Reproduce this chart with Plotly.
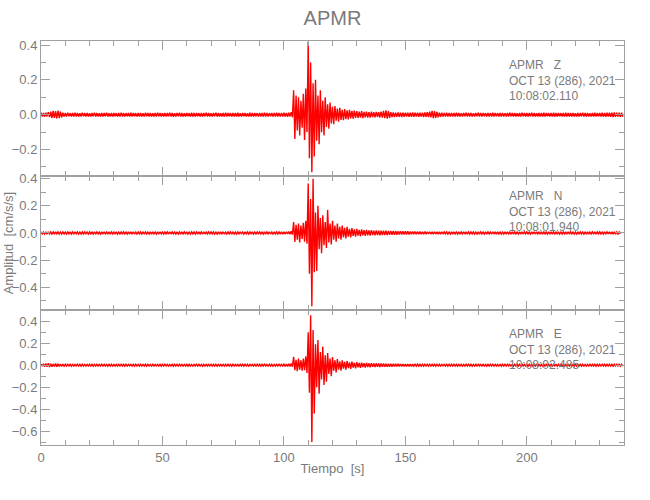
import plotly.graph_objects as go
from plotly.subplots import make_subplots

# Envelope of each ground-acceleration trace, read per 1-s window,
# in units of 0.001 cm/s/s (upper peak, lower peak).
seconds_z = list(range(240))
Z_HI = [12,10,12,15,18,22,20,24,18,12,
        10,11,9,10,12,10,9,11,10,10,
        9,10,11,10,9,10,10,11,9,10,
        10,9,10,12,10,9,10,11,10,9,
        10,10,9,11,10,10,9,10,11,10,
        9,10,10,12,10,9,10,11,10,9,
        10,9,11,10,10,9,10,10,11,10,
        9,10,11,10,9,10,12,10,9,10,
        10,11,9,10,10,9,11,10,10,9,
        10,10,11,10,9,10,10,11,10,10,
        11,10,12,15,140,110,100,80,120,150,
        420,300,180,200,110,140,80,100,60,70,
        45,50,35,40,28,32,25,28,22,24,
        20,18,21,16,18,15,17,14,16,15,
        18,22,25,20,14,13,12,13,12,12,
        12,11,12,13,12,11,12,12,13,15,
        18,22,20,16,12,11,10,11,10,10,
        10,11,10,9,10,11,10,10,9,10,
        11,10,10,9,10,10,11,10,9,10,
        10,9,10,11,10,10,9,10,11,10,
        10,10,11,10,9,10,10,11,10,9,
        10,11,10,10,9,10,11,10,10,10,
        9,10,10,11,10,10,9,10,11,10,
        10,11,10,12,11,12,13,12,12,11]
Z_LO = [-11,-12,-10,-14,-20,-18,-22,-19,-16,-11,
        -10,-9,-11,-10,-10,-11,-10,-9,-10,-11,
        -10,-9,-10,-11,-10,-10,-9,-10,-11,-10,
        -9,-10,-11,-10,-10,-9,-11,-10,-9,-10,
        -11,-10,-10,-9,-10,-11,-10,-10,-9,-10,
        -10,-11,-9,-10,-12,-10,-9,-10,-11,-10,
        -9,-10,-10,-11,-9,-10,-10,-9,-10,-11,
        -10,-9,-10,-11,-10,-10,-11,-9,-10,-10,
        -11,-10,-10,-9,-11,-10,-10,-11,-9,-10,
        -10,-11,-10,-10,-9,-10,-11,-10,-10,-11,
        -10,-12,-10,-15,-140,-90,-120,-75,-145,-100,
        -250,-330,-240,-150,-170,-100,-120,-70,-80,-50,
        -55,-35,-40,-30,-32,-25,-27,-21,-23,-18,
        -19,-17,-20,-15,-17,-16,-14,-15,-13,-16,
        -17,-20,-22,-18,-14,-13,-12,-12,-13,-12,
        -11,-12,-12,-12,-11,-12,-11,-13,-12,-14,
        -16,-20,-18,-15,-12,-10,-11,-10,-10,-11,
        -10,-10,-11,-10,-9,-10,-10,-11,-10,-9,
        -10,-11,-9,-10,-10,-11,-10,-9,-10,-10,
        -11,-10,-10,-9,-10,-11,-10,-10,-9,-10,
        -10,-9,-10,-11,-10,-10,-11,-10,-9,-10,
        -11,-10,-10,-9,-10,-11,-10,-10,-11,-10,
        -10,-11,-9,-10,-10,-10,-11,-10,-10,-9,
        -11,-10,-12,-11,-12,-13,-12,-11,-12,-12]

seconds_n = list(range(239))
N_HI = [8,7,8,9,8,7,8,8,7,8,
        7,8,8,7,9,8,7,8,8,7,
        8,7,8,8,7,8,9,7,8,8,
        7,8,7,8,8,7,8,8,9,7,
        8,8,7,8,7,8,8,7,8,9,
        7,8,8,9,8,7,8,7,8,8,
        8,7,8,8,7,8,8,9,7,8,
        8,8,7,8,8,9,7,8,8,7,
        7,8,9,7,8,8,7,8,7,8,
        8,7,8,8,9,7,8,8,7,8,
        8,9,10,12,80,60,70,55,75,90,
        365,250,400,150,200,110,130,80,170,70,
        90,55,70,45,55,38,45,30,35,26,
        30,22,26,20,23,18,21,17,19,16,
        17,16,16,15,15,14,14,13,13,12,
        12,12,11,11,10,10,10,9,10,9,
        9,8,9,8,8,9,8,8,7,8,
        8,7,8,8,9,8,7,8,8,7,
        8,8,7,8,8,7,9,8,8,7,
        7,8,8,7,8,8,7,8,9,8,
        8,7,8,9,8,7,8,8,7,8,
        8,8,7,8,7,8,8,9,8,7,
        7,8,8,7,8,8,7,8,8,8,
        8,7,8,8,9,8,8,7,8]
N_LO = [-7,-8,-8,-7,-8,-9,-7,-8,-8,-7,
        -8,-7,-8,-9,-7,-8,-8,-7,-8,-8,
        -7,-8,-8,-7,-8,-8,-7,-9,-8,-7,
        -8,-8,-7,-8,-7,-8,-9,-7,-8,-8,
        -7,-8,-8,-7,-8,-9,-7,-8,-8,-7,
        -8,-7,-8,-8,-7,-8,-8,-9,-7,-8,
        -8,-8,-7,-8,-9,-7,-8,-8,-7,-8,
        -7,-8,-8,-9,-7,-8,-8,-7,-8,-8,
        -8,-7,-8,-8,-7,-8,-9,-8,-7,-8,
        -7,-8,-8,-7,-8,-8,-7,-8,-9,-8,
        -8,-8,-10,-12,-67,-50,-70,-45,-65,-80,
        -300,-540,-290,-280,-120,-150,-90,-110,-70,-85,
        -50,-65,-40,-50,-32,-40,-27,-33,-22,-28,
        -20,-25,-18,-22,-17,-20,-16,-18,-15,-17,
        -16,-15,-15,-14,-14,-13,-13,-12,-12,-11,
        -11,-11,-10,-10,-10,-9,-9,-9,-9,-8,
        -8,-9,-8,-8,-9,-8,-7,-8,-8,-9,
        -7,-8,-8,-7,-8,-9,-8,-7,-8,-8,
        -8,-7,-8,-8,-7,-8,-8,-9,-7,-8,
        -8,-8,-7,-9,-8,-7,-8,-8,-8,-7,
        -7,-8,-8,-8,-7,-9,-8,-7,-8,-8,
        -8,-7,-9,-8,-8,-7,-8,-8,-7,-8,
        -8,-8,-7,-8,-8,-9,-7,-8,-8,-7,
        -7,-8,-8,-7,-8,-8,-9,-8,-7]

seconds_e = list(range(240))
E_HI = [10,12,15,18,14,12,16,13,11,10,
        8,9,8,7,8,9,8,8,7,8,
        9,8,7,8,8,9,8,7,8,8,
        8,7,8,9,8,8,7,8,8,9,
        7,8,8,8,9,7,8,8,7,8,
        8,9,8,7,8,8,8,9,8,7,
        8,8,7,8,9,8,7,8,8,8,
        9,8,8,7,8,8,9,8,7,8,
        8,7,8,8,9,8,8,7,8,9,
        8,8,9,7,8,8,7,8,9,8,
        10,10,12,15,76,50,60,45,60,80,
        300,455,320,190,230,120,170,90,110,60,
        75,45,55,35,45,30,38,26,32,22,
        28,20,24,18,21,17,19,16,17,15,
        15,15,14,14,13,13,12,12,11,11,
        11,10,10,10,9,10,9,9,9,9,
        9,8,8,9,8,8,7,8,9,8,
        8,8,7,8,8,9,8,8,7,8,
        9,8,8,7,8,8,9,8,8,7,
        8,8,9,8,7,8,8,8,9,8,
        7,8,8,9,8,8,7,8,8,9,
        8,8,7,8,9,8,8,7,8,8,
        9,8,8,8,7,8,9,8,8,8,
        8,9,8,8,9,8,8,9,8,8]
E_LO = [-9,-13,-14,-16,-15,-11,-14,-12,-10,-9,
        -8,-8,-9,-8,-7,-8,-9,-8,-8,-7,
        -8,-9,-8,-8,-7,-8,-8,-9,-8,-8,
        -7,-8,-8,-8,-9,-8,-7,-8,-9,-8,
        -8,-8,-7,-9,-8,-8,-8,-7,-8,-9,
        -8,-7,-8,-8,-9,-8,-8,-7,-8,-8,
        -9,-8,-8,-7,-8,-8,-9,-8,-7,-8,
        -8,-8,-9,-8,-7,-8,-8,-8,-9,-8,
        -7,-8,-8,-9,-8,-8,-7,-8,-8,-8,
        -9,-8,-7,-8,-8,-9,-8,-8,-7,-8,
        -10,-11,-12,-14,-45,-55,-40,-50,-45,-70,
        -250,-700,-440,-200,-260,-130,-180,-150,-80,-100,
        -50,-65,-40,-50,-32,-40,-26,-33,-22,-28,
        -19,-24,-17,-21,-16,-19,-15,-17,-14,-16,
        -15,-14,-14,-13,-13,-12,-12,-11,-11,-10,
        -10,-10,-10,-9,-9,-9,-9,-9,-8,-9,
        -8,-8,-9,-8,-8,-7,-8,-9,-8,-8,
        -8,-9,-8,-8,-7,-8,-8,-9,-8,-8,
        -7,-8,-8,-9,-8,-8,-8,-7,-8,-9,
        -8,-8,-7,-8,-9,-8,-8,-8,-7,-8,
        -9,-8,-8,-7,-8,-8,-9,-8,-8,-8,
        -8,-7,-8,-9,-8,-8,-7,-8,-8,-9,
        -8,-8,-9,-8,-8,-7,-8,-8,-9,-8,
        -8,-8,-9,-8,-8,-9,-8,-8,-9,-8]

components = ["Z", "N", "E"]
start_times = ["10:08:02.110", "10:08:01.940", "10:08:02.485"]
station = "APMR"
date_label = "OCT 13 (286), 2021"
y_ranges = [[-0.35, 0.423], [-0.57, 0.422], [-0.727, 0.5]]

TEXT = "#7a7a7a"
AXIS = "#a0a0a0"
FONT = "Liberation Sans, Arial, sans-serif"


def zigzag(secs, hi, lo):
    xs, ys = [], []
    for t, a, b in zip(secs, hi, lo):
        xs.append(t)
        ys.append(a / 1000.0)
        xs.append(t + 0.5)
        ys.append(b / 1000.0)
    return xs, ys


traces = [(seconds_z, Z_HI, Z_LO), (seconds_n, N_HI, N_LO), (seconds_e, E_HI, E_LO)]

fig = make_subplots(rows=3, cols=1, shared_xaxes=True, vertical_spacing=0)

for i, (secs, hi, lo) in enumerate(traces):
    xs, ys = zigzag(secs, hi, lo)
    fig.add_trace(go.Scatter(x=xs, y=ys, mode="lines",
                             line=dict(color="#ff0000", width=1.4),
                             showlegend=False, hoverinfo="skip"),
                  row=i + 1, col=1)

for i in range(3):
    fig.update_xaxes(range=[0, 240], tick0=0, dtick=50, ticks="inside",
                     ticklen=9, tickcolor=AXIS, tickwidth=1,
                     minor=dict(ticks="inside", dtick=10, ticklen=5, tickcolor=AXIS),
                     showline=True, linecolor=AXIS, linewidth=1, mirror="allticks",
                     showgrid=False, zeroline=False, automargin=False,
                     showticklabels=(i == 2),
                     tickfont=dict(family=FONT, size=13, color=TEXT),
                     row=i + 1, col=1)
    fig.update_yaxes(range=y_ranges[i], tick0=0, dtick=0.2, tickformat=".1f",
                     ticks="inside", ticklen=9, tickcolor=AXIS, tickwidth=1,
                     minor=dict(ticks="inside", dtick=0.1, ticklen=5, tickcolor=AXIS),
                     showline=True, linecolor=AXIS, linewidth=1, mirror="allticks",
                     showgrid=False, zeroline=False, automargin=False,
                     tickfont=dict(family=FONT, size=13, color=TEXT),
                     row=i + 1, col=1)

fig.update_xaxes(title=dict(text="Tiempo  [s]", font=dict(family=FONT, size=13, color=TEXT),
                            standoff=0), row=3, col=1)

# y-axis title placed as rotated text to the left of the tick labels
fig.add_annotation(x=-0.056, y=0.5, xref="paper", yref="paper",
                   xanchor="center", yanchor="middle", textangle=-90, showarrow=False,
                   text="Amplitud  [cm/s/s]", font=dict(family=FONT, size=13, color=TEXT))

ann_y = [0.963, 0.638, 0.298]
for i in range(3):
    txt = (f"{station}\u00a0\u00a0\u00a0{components[i]}<br>{date_label}<br>{start_times[i]}")
    fig.add_annotation(x=0.799, y=ann_y[i], xref="paper", yref="paper",
                       xanchor="left", yanchor="top", align="left", showarrow=False,
                       text=txt, font=dict(family=FONT, size=12, color=TEXT))

fig.update_layout(
    width=650, height=500,
    margin=dict(l=41, r=26, t=41, b=55),
    paper_bgcolor="white", plot_bgcolor="white",
    title=dict(text=station, x=0.5, xref="paper", y=0.965, yanchor="middle",
               font=dict(family=FONT, size=20, color=TEXT)),
)

fig.write_html("out.html", config={"displayModeBar": False},
               post_script="document.body.style.margin='0';document.body.style.overflow='hidden';")
